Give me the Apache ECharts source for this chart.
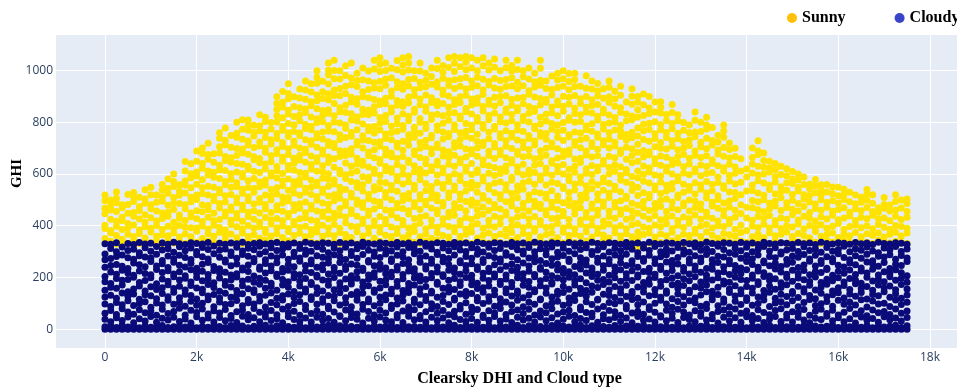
<!DOCTYPE html>
<html>
<head>
<meta charset="utf-8">
<script src="https://cdn.jsdelivr.net/npm/echarts@6/dist/echarts.min.js"></script>
<style>
html,body{margin:0;padding:0;background:#fff}
#chart{width:957px;height:388px}
</style>
</head>
<body>
<div id="chart"></div>
<script>
// x position of every column of points (Clearsky DHI index)
const xCols = [0,125,250,375,500,625,750,875,1000,1125,1250,1375,1500,1625,1750,1875,2000,2125,2250,2375,2500,2625,2750,2875,3000,3125,3250,3375,3500,3625,3750,3875,4000,4125,4250,4375,4500,4625,4750,4875,5000,5125,5250,5375,5500,5625,5750,5875,6000,6125,6250,6375,6500,6625,6750,6875,7000,7125,7250,7375,7500,7625,7750,7875,8000,8125,8250,8375,8500,8625,8750,8875,9000,9125,9250,9375,9500,9625,9750,9875,10000,10125,10250,10375,10500,10625,10750,10875,11000,11125,11250,11375,11500,11625,11750,11875,12000,12125,12250,12375,12500,12625,12750,12875,13000,13125,13250,13375,13500,13625,13750,13875,14000,14125,14250,14375,14500,14625,14750,14875,15000,15125,15250,15375,15500,15625,15750,15875,16000,16125,16250,16375,16500,16625,16750,16875,17000,17125,17250,17375,17500];

// GHI values of the sunny points, one list per column
const sunnyCols = [
[334,351,389,402,446,468,497,519],
[340,373,381,425,461,478,500],
[329,362,398,417,455,489,506,531],
[337,348,385,420,433,470,481],
[332,367,392,409,448,482,521],
[345,358,403,437,451,494,512,529],
[331,370,384,426,459,474,510],
[339,353,396,414,443,487,503,539],
[334,376,390,431,466,481,520,549],
[342,359,401,418,457,491,519],
[330,365,386,428,449,495,511,538,560],
[347,361,398,437,452,479,526,544,581],
[333,372,389,414,463,487,509,552,571,600],
[338,356,401,429,442,486,518,533,559],
[331,368,394,420,466,481,527,558,573,612,649],
[344,357,392,435,449,493,510,547,586,601,640],
[336,379,391,427,458,502,519,561,592,608,650,689],
[330,351,399,416,454,481,524,547,578,622,641,680,701],
[341,370,387,433,462,478,519,553,596,612,657,676,719],
[335,359,402,419,448,497,513,549,588,607,646,679],
[332,375,393,424,469,486,528,540,583,617,634,681,706,739,760],
[346,361,384,438,453,492,516,559,571,614,652,668,713,731,778],
[333,368,405,421,460,473,521,549,580,601,646,663,704,749],
[339,354,396,430,447,489,507,552,566,608,641,672,699,742,758,800],
[331,372,388,417,463,479,526,541,589,602,638,681,697,735,773,810],
[343,358,401,436,452,497,512,548,574,619,630,677,712,728,769,791,809],
[336,366,390,425,458,484,530,544,583,611,655,667,703,747,761,789],
[330,352,397,414,449,491,505,551,569,606,644,660,709,724,768,787,829],
[345,373,386,432,466,482,519,558,577,621,639,684,700,741,762,803,820],
[334,360,407,423,451,500,516,540,592,604,648,671,716,733,774,799],
[338,369,391,428,462,477,523,547,585,613,629,680,694,738,757,801,826,850,873,899],
[331,355,400,419,456,488,511,555,573,602,650,665,707,722,769,784,818,859,878,919],
[342,377,389,435,447,496,509,537,581,618,633,676,698,745,760,796,832,847,891,912,949],
[335,362,404,416,459,481,527,552,570,615,642,661,711,727,765,790,823,861,899],
[329,371,393,427,468,485,518,560,579,606,654,672,701,748,759,806,829,857,894,929],
[344,357,398,431,450,492,530,545,589,603,646,683,696,733,776,792,838,852,889,925,960],
[337,366,385,422,465,479,521,549,576,620,637,670,715,729,771,785,821,864,880,917,949],
[332,376,395,418,457,499,513,556,568,611,649,663,704,740,756,799,814,853,884,906,951,975,1000],
[341,359,402,437,453,488,529,541,584,609,632,678,693,736,763,802,827,846,892,918,959],
[334,368,391,426,461,483,515,553,580,601,645,666,710,725,767,788,835,849,887,911,948,983,1002,1030],
[338,361,405,429,448,497,520,562,577,626,659,703,718,764,801,826,873,904,925,969,1001,1040],
[331,374,390,441,467,506,531,549,601,615,668,690,734,752,798,841,857,903,931,968,1000],
[345,366,412,434,478,493,540,583,597,643,672,689,741,777,790,838,866,912,940,981,1019],
[336,355,398,447,462,511,526,571,604,630,677,698,746,761,809,833,879,897,946,972,1030],
[329,377,396,437,483,500,548,566,611,639,661,712,726,771,805,821,870,891,939,962,990],
[342,360,409,425,471,489,534,559,590,634,650,701,732,748,794,830,851,899,918,965,1010],
[335,371,391,440,456,504,521,575,588,627,671,685,730,768,782,829,847,895,927,960,999],
[333,352,401,418,465,496,537,551,603,618,663,694,723,759,784,836,860,888,933,953,1006,1040],
[340,375,393,436,477,492,543,569,595,642,656,708,725,770,797,819,869,883,930,959,997,1025,1050],
[331,363,408,424,461,510,529,566,612,629,674,696,738,755,803,827,872,893,944,968,1001,1030],
[344,358,395,443,459,501,539,556,607,621,667,681,733,761,786,840,856,901,921,973,1009],
[337,370,389,431,470,486,533,574,591,637,660,705,719,766,795,817,866,885,935,957,1004,1039],
[330,354,404,420,467,498,516,562,600,624,668,692,727,773,788,833,862,880,928,949,995,1022,1050],
[343,366,391,445,458,505,525,570,593,645,653,711,735,752,806,824,875,898,941,966,1003,1031,1055],
[336,378,399,428,474,489,541,557,609,632,676,689,742,767,781,839,851,904,926,970,1000],
[332,357,410,433,463,503,520,578,598,619,664,700,722,758,800,815,868,890,934,955,999,1030],
[341,369,388,439,481,495,536,563,604,640,657,707,731,776,793,843,859,906,938,963,990],
[334,352,400,422,468,507,531,552,613,628,679,697,740,750,811,828,877,895,947,977,1010],
[345,373,394,446,460,497,518,567,596,635,650,703,716,769,787,831,864,882,937,956,1008,1040],
[330,362,406,427,476,490,545,560,605,622,670,693,736,763,797,826,873,908,924,971,994,1020],
[338,356,397,435,452,509,527,571,590,638,662,686,744,757,808,834,858,902,943,961,1012,1050],
[333,377,392,441,466,485,538,554,601,630,673,704,721,772,790,837,869,887,931,965,997,1029,1055],
[342,359,403,419,471,502,523,575,593,644,658,709,734,760,813,825,876,899,940,969,1015,1050],
[335,367,387,432,457,494,534,561,611,626,666,697,745,766,796,841,854,905,929,974,1004,1033,1055],
[331,376,399,425,479,500,546,568,598,641,679,694,739,771,789,832,867,890,936,960,1010,1050],
[344,353,408,438,462,488,530,557,606,617,669,701,726,754,804,819,874,894,942,975,1000,1040],
[337,364,390,444,473,506,517,573,589,636,654,710,723,777,792,844,861,908,925,967,1019,1050],
[332,372,401,421,459,496,542,555,603,632,672,688,737,762,810,827,870,886,945,958,1003,1030],
[340,358,395,437,470,482,528,565,594,625,660,705,718,774,785,836,863,897,933,970,1013,1045],
[335,368,407,429,465,504,520,570,602,620,675,691,740,756,802,821,876,900,928,962,1000],
[329,361,386,442,453,493,537,559,610,631,663,708,729,768,798,839,852,903,939,966,1011,1040],
[343,374,398,423,476,499,525,576,588,643,655,699,743,758,806,830,866,889,941,973,999,1020],
[336,355,404,434,461,508,533,554,608,627,676,687,732,770,791,845,857,894,930,955,1005,1040],
[331,370,392,440,469,487,541,566,597,638,667,703,724,765,807,823,872,896,942,976,1000],
[346,363,402,426,457,501,519,572,599,616,670,695,738,749,801,835,861,909,922,968,1010],
[334,379,389,436,474,495,532,561,606,634,659,712,728,775,786,842,854,898,937,957,990],
[339,357,405,420,467,483,527,577,592,640,665,690,746,761,794,820,867,892,944,963,1009,1040],
[330,366,393,443,458,506,522,558,604,622,673,700,735,757,805,831,878,888,931,960],
[342,372,397,428,472,491,535,568,595,642,651,706,720,773,796,837,859,906,927,979],
[337,354,409,431,463,498,515,563,609,629,662,698,741,764,790,826,868,883,935,964,990],
[333,375,391,439,455,489,544,551,600,637,668,688,730,769,799,843,862,901,940,969,1000],
[344,362,400,424,478,503,529,574,591,619,677,693,744,752,808,818,871,897,926,958,989],
[335,368,388,445,464,486,538,562,607,630,658,711,725,763,800,834,855,904,939,966,990],
[330,359,406,422,470,495,518,567,589,645,661,702,733,759,803,829,873,891,940],
[341,377,394,433,451,507,531,555,603,621,674,689,739,771,787,840,858,900,932,980],
[336,356,403,427,468,484,543,571,598,633,666,707,721,766,795,836,865,887,929,960],
[332,370,390,441,460,500,523,559,612,627,671,696,742,755,809,824,869,902,921,950],
[345,364,398,418,475,492,537,570,586,639,652,713,729,774,792,837,851,893,930],
[338,353,407,436,456,509,526,564,601,625,669,701,736,760,798,828,877,899,936,960],
[331,373,392,429,473,490,540,553,610,636,663,709,723,770,801,819,862,890,920],
[343,360,401,444,461,497,532,576,594,628,680,692,745,767,789,838,857,905,940],
[334,369,388,425,467,505,514,568,605,618,657,704,731,753,806,832,879],
[339,357,404,432,458,487,536,560,591,644,672,698,740,762,810,825,870,901,930],
[318,352,376,409,448,479,517,549,586,612,650,684,715,747,778,821,849,878,900],
[322,366,395,437,470,494,528,572,599,631,667,691,734,768,793,827,868,910],
[333,372,390,426,459,508,521,565,608,623,675,686,727,772,797,834,856,900],
[340,356,403,440,466,486,539,554,596,640,659,706,738,756,802,840,879],
[335,368,396,423,474,498,525,569,592,634,670,700,722,771,791,836,858,880],
[330,361,408,431,455,503,534,557,611,626,665,697,741,761,807,830],
[342,375,389,438,469,492,542,563,600,637,654,708,729,775,796,838,869],
[337,354,402,420,462,509,519,574,590,643,668,694,737,758,806,829],
[331,367,393,434,477,488,530,561,604,628,676,701,726,769,799],
[344,362,410,427,457,500,537,552,597,639,661,710,733,760,790],
[336,371,387,442,471,496,523,566,609,620,673,689,744,763,808,840],
[332,358,399,425,463,484,541,558,593,635,664,706,723,765,800],
[340,376,405,436,452,507,527,571,602,629,671,698,739,774,790,820],
[335,363,391,429,476,491,535,560,606,641,655,712,730,780],
[330,352,400,418,468,502,516,567,589,632,678,693,724,750],
[343,370,397,439,458,488,544,555,611,624,669,703,742,767,790],
[338,365,408,424,473,497,531,573,594,638,662,695,720],
[332,359,386,433,460,505,529,562,603,627,668,700],
[341,374,402,447,481,520,568,611,659],
[336,381,430,472,534,589,620],
[331,357,399,421,470,498,536,558,604,639,664,701],
[344,368,392,436,462,493,527,574,596,630,676,689,729],
[337,355,406,428,454,501,518,565,600,626,652,681],
[330,373,391,440,466,487,540,557,608,623,650],
[342,361,404,419,476,495,523,569,590,617,641],
[335,367,389,431,459,508,532,551,598,630],
[331,376,400,425,471,489,537,566,593,621],
[345,358,395,443,464,499,521,563,581,610],
[338,370,407,422,457,486,534,548,577,600],
[333,362,388,437,474,503,520,560,589],
[340,354,401,429,451,492,517,543,561],
[336,378,393,418,467,484,528,555,579],
[331,359,404,435,460,501,519,538,559],
[343,366,390,426,472,490,531,560],
[337,372,398,441,456,497,524,550],
[332,355,409,423,463,488,516,549],
[344,368,386,430,470,502,521,541],
[336,361,397,438,452,493,530],
[330,374,403,420,466,485,519],
[341,357,392,433,458,491,510],
[335,369,400,427,471,499,522,540],
[331,363,388,441,455,487,520],
[344,372,405,426,452,470],
[338,356,394,430,468,482,509],
[333,367,386,419,457,480],
[340,375,401,437,461,494,520],
[335,360,397,424,469,500],
[331,372,390,433,455,486,503]
];

// GHI values of the cloudy points, one list per column
const cloudyCols = [
[0,9,38,61,97,124,150,183,204,239,268,291,330],
[0,12,29,72,88,131,162,177,221,246,273,312,328],
[0,6,44,57,103,119,158,196,212,250,281,299,334],
[0,15,33,79,94,140,171,189,228,243,287,318],
[0,8,47,66,110,127,145,192,217,235,276,304,331],
[0,11,25,58,91,136,155,201,208,256,270,309,327],
[0,5,40,75,99,116,167,180,225,249,284,296,335],
[0,13,31,63,106,133,148,188,215,241,279,315,329],
[0,7,49,70,85,129,164,199,210,262,275,301,332],
[0,10,27,54,101,118,153,176,231,244,290,320],
[0,14,42,77,93,138,160,194,219,253,266,306,333],
[0,6,35,60,112,125,172,185,226,238,283,311,328],
[0,9,46,68,96,143,157,203,213,259,272,297,336],
[0,12,30,81,104,121,166,190,222,247,286,319,330],
[0,8,39,55,89,135,151,197,207,240,277,303,327],
[0,15,24,73,108,130,169,182,230,255,269,314,334],
[0,5,48,64,92,117,159,200,216,236,288,300,331],
[0,11,34,78,100,141,154,187,224,251,280,316,329],
[0,7,43,59,114,128,173,195,211,258,271,308,335],
[0,13,28,71,87,134,161,179,227,242,292,322],
[0,10,45,62,105,120,147,198,218,234,278,305,332],
[0,6,32,76,95,139,170,184,220,260,267,310,328],
[0,14,41,53,98,123,163,191,209,245,285,298,333],
[0,9,26,67,111,132,149,202,214,252,274,317,330],
[0,12,50,74,90,137,168,186,229,237,289,302,336],
[0,5,36,57,102,115,156,193,223,248,282,313,327],
[0,11,44,80,97,142,152,181,206,261,273,307,331],
[0,8,29,65,109,126,174,197,232,240,291,321,334],
[0,15,47,61,86,131,158,189,217,254,268,299,329],
[0,6,33,72,103,140,165,178,226,244,283,315,332],
[0,13,40,56,94,119,150,204,212,257,276,304,335],
[0,9,25,78,113,129,171,192,221,235,287,310,328],
[0,10,48,63,88,136,162,183,228,250,270,318,330],
[0,7,37,69,99,122,146,199,215,241,281,297,333],
[0,14,30,54,107,133,167,185,210,263,275,312,327],
[0,5,43,76,91,144,155,196,225,246,290,306,336],
[0,12,28,60,115,125,173,180,219,253,267,301,331],
[0,8,46,71,96,138,160,202,208,239,284,319,329],
[0,11,34,58,104,118,148,190,230,249,278,309,334],
[0,15,41,79,89,130,170,187,213,256,272,296,332],
[0,6,27,66,110,127,152,200,224,238,288,314,328],
[0,13,49,52,93,141,164,179,216,258,280,303,335],
[0,9,32,74,101,121,157,194,231,243,269,317,330],
[0,10,45,63,87,134,175,188,207,252,285,300,333],
[0,7,38,59,112,128,145,197,222,247,274,311,327],
[0,14,24,77,95,139,163,182,227,236,289,320,336],
[0,5,42,68,106,117,168,193,209,260,266,305,331],
[0,12,31,55,90,143,151,201,218,245,282,298,329],
[0,8,47,73,100,124,159,185,232,251,277,313,334],
[0,11,35,62,114,132,172,190,214,237,291,307,332],
[0,15,29,80,92,137,154,203,220,262,271,302,328],
[0,6,44,57,97,120,166,184,229,242,286,318,335],
[0,13,26,70,109,131,149,195,211,254,279,299,330],
[0,9,50,64,86,142,161,177,225,248,268,316,333],
[0,10,36,75,103,116,171,198,217,234,292,308,327],
[0,7,40,53,94,135,156,186,206,259,276,301,336],
[0,14,28,67,111,126,165,192,233,244,283,321,331],
[0,5,46,79,98,140,147,199,215,255,270,310,329],
[0,12,33,61,88,123,174,181,221,240,289,297,334],
[0,8,43,72,107,130,158,204,210,261,278,314,332],
[0,11,25,56,95,144,163,189,228,250,273,303,328],
[0,15,48,69,113,119,153,196,219,237,287,319,335],
[0,6,37,78,91,136,169,183,212,257,265,306,330],
[0,13,30,58,102,129,146,200,226,246,281,300,333],
[0,9,41,65,85,138,172,191,208,253,274,315,327],
[0,10,27,76,110,122,157,178,231,241,290,309,336],
[0,7,45,54,99,143,160,197,216,258,269,298,331],
[0,14,34,71,108,125,167,188,223,236,284,317,329],
[0,5,49,62,89,133,150,202,213,249,277,304,334],
[0,12,31,80,97,118,173,185,230,260,271,312,332],
[0,8,39,57,105,141,155,194,209,243,286,296,328],
[0,11,26,68,93,128,164,180,227,252,280,320,335],
[0,15,46,74,112,137,148,199,218,239,268,307,330],
[0,6,35,60,87,121,170,193,214,256,291,302,333],
[0,13,42,77,104,132,162,184,224,244,275,316,327],
[0,9,28,55,96,145,152,203,211,261,282,299,336],
[0,10,47,70,114,117,168,187,232,238,266,311,331],
[0,7,32,63,90,139,159,196,220,254,288,305,329],
[0,14,44,79,101,124,175,181,207,247,272,318,334],
[0,5,24,59,108,134,147,198,229,251,279,297,332],
[0,12,38,66,92,142,166,190,215,235,285,313,328],
[0,8,50,73,99,120,154,201,222,262,270,301,335],
[0,11,29,53,111,131,171,186,210,242,292,321,330],
[0,15,41,75,86,138,158,195,233,255,276,308,333],
[0,6,33,64,106,127,149,179,217,248,267,315,327],
[0,13,48,61,95,143,167,204,225,237,289,300,336],
[0,9,27,78,113,116,161,189,212,259,274,306,331],
[0,10,40,56,88,135,173,192,228,245,283,319,329],
[0,7,36,72,103,130,151,182,208,253,269,298,334],
[0,14,45,67,98,122,165,199,221,240,287,312,332],
[0,5,30,54,109,140,156,185,230,257,278,303,328],
[0,12,43,79,91,126,170,197,214,246,290,317,335],
[0,8,25,62,115,137,146,188,226,250,265,309,330],
[0,11,49,69,94,119,163,202,209,239,281,296,333],
[0,15,34,58,105,144,160,180,223,263,273,314,327],
[0,6,39,76,87,129,174,193,219,236,286,304,336],
[0,13,28,65,100,133,153,200,212,254,271,320,331],
[0,9,47,52,112,123,166,184,231,243,280,299,329],
[0,10,32,73,97,139,148,191,216,260,288,310,334],
[0,7,42,60,85,118,172,198,227,247,266,302,332],
[0,14,26,77,107,136,157,178,207,252,277,316,328],
[0,5,45,66,93,125,169,195,224,238,291,307,335],
[0,12,37,55,110,141,150,187,213,256,270,297,330],
[0,8,29,71,102,120,164,203,229,244,284,318,333],
[0,11,50,63,89,132,159,182,220,261,275,305,327],
[0,15,35,80,96,145,171,194,208,235,289,311,336],
[0,6,40,57,114,127,147,190,232,249,268,300,331],
[0,13,24,68,90,134,162,199,217,258,282,321,329],
[0,9,46,74,104,117,175,186,222,241,279,308,334],
[0,10,31,59,86,142,155,181,211,253,267,296,332],
[0,7,44,78,108,128,168,201,226,246,290,313,328],
[0,14,27,61,95,137,152,192,215,237,274,303,335],
[0,5,48,70,111,121,165,188,230,262,285,317,330],
[0,12,33,53,92,140,158,197,209,250,272,299,333],
[0,8,41,75,99,124,173,183,225,239,287,309,327],
[0,11,26,64,113,131,149,204,218,257,264,320,336],
[0,15,39,56,88,143,167,189,206,245,281,302,331],
[0,6,49,72,101,119,154,195,233,255,276,315,329],
[0,13,30,79,106,135,161,179,221,242,291,298,334],
[0,9,43,58,94,126,172,200,212,251,269,306,332],
[0,10,28,67,110,138,146,185,228,259,283,312,328],
[0,7,46,62,87,122,166,198,214,238,278,300,335],
[0,14,35,76,103,144,156,191,227,248,289,319,330],
[0,5,25,54,115,130,170,184,210,263,271,304,333],
[0,12,42,69,91,118,151,202,223,244,286,310,327],
[0,8,37,77,98,139,163,180,219,254,266,297,336],
[0,11,50,60,107,125,174,193,231,236,280,316,331],
[0,15,32,73,89,133,148,187,208,261,273,301,329],
[0,6,44,55,112,141,160,199,224,247,292,308,334],
[0,13,29,65,96,120,169,182,216,240,277,321,332],
[0,9,40,80,105,136,153,196,229,256,268,299,328],
[0,10,24,59,93,127,176,190,211,249,284,311,335],
[0,7,47,71,114,142,157,178,225,237,274,305,330],
[0,14,34,52,86,117,165,201,217,260,290,318,333],
[0,5,41,74,109,134,150,186,232,252,265,302,327],
[0,12,27,63,97,129,171,194,209,243,282,296,336],
[0,8,48,68,100,145,159,183,222,258,279,314,331],
[0,11,36,57,88,123,167,203,215,235,288,307,329],
[0,15,43,78,113,137,152,189,230,251,270,320,334],
[0,6,31,61,95,119,173,197,218,246,285,300,332],
[0,13,45,70,104,132,155,181,207,262,275,310,328]
];

const xTicks = [0,2000,4000,6000,8000,10000,12000,14000,16000,18000];
const xTickLabels = ['0','2k','4k','6k','8k','10k','12k','14k','16k','18k'];
const yTicks = [0,200,400,600,800,1000];

function toPoints(cols) {
    const pts = [];
    cols.forEach((ys, i) => {
        ys.forEach(y => pts.push([xCols[i], y]));
    });
    return pts;
}

const tickFont = {color: '#2a3f5f', fontFamily: 'Open Sans', fontSize: 12};
const titleFont = {color: '#000', fontFamily: 'Liberation Serif', fontWeight: 'bold'};

const chart = echarts.init(document.getElementById('chart'), null, {renderer: 'canvas'});
chart.setOption({
    animation: false,
    backgroundColor: '#fff',
    legend: {
        top: 5,
        left: 782,
        width: 400,
        icon: 'circle',
        itemWidth: 10,
        itemHeight: 10,
        itemGap: 49,
        textStyle: {color: '#000', fontFamily: 'Liberation Serif', fontWeight: 'bold', fontSize: 16},
        data: [
            {name: 'Sunny', itemStyle: {color: '#ffc107'}},
            {name: 'Cloudy', itemStyle: {color: '#3a44c8'}}
        ]
    },
    grid: {
        left: 56, right: 0, top: 35, bottom: 40,
        containLabel: false,
        outerBoundsMode: 'none',
        show: true, backgroundColor: '#e5ecf6', borderWidth: 0
    },
    xAxis: {
        type: 'value',
        min: -1069,
        max: 18590,
        name: 'Clearsky DHI and Cloud type',
        nameLocation: 'middle',
        nameGap: 23,
        nameMoveOverlap: false,
        nameTextStyle: Object.assign({padding: [0, 0, 0, 26], fontSize: 16}, titleFont),
        axisLine: {show: false},
        axisTick: {show: false, customValues: xTicks},
        axisLabel: Object.assign({
            customValues: xTicks,
            margin: 4,
            formatter: v => xTickLabels[xTicks.indexOf(v)]
        }, tickFont),
        splitLine: {show: true, lineStyle: {color: '#fff', width: 1}}
    },
    yAxis: {
        type: 'value',
        min: -73,
        max: 1138,
        name: 'GHI',
        nameLocation: 'middle',
        nameRotate: 90,
        nameGap: 31,
        nameMoveOverlap: false,
        nameTextStyle: Object.assign({padding: [0, 0, 0, 36], fontSize: 15}, titleFont),
        axisLine: {show: false},
        axisTick: {show: false, customValues: yTicks},
        axisLabel: Object.assign({customValues: yTicks, margin: 3, formatter: v => String(v)}, tickFont),
        splitLine: {show: true, lineStyle: {color: '#fff', width: 1}}
    },
    series: [
        {
            name: 'Sunny',
            type: 'scatter',
            symbol: 'circle',
            symbolSize: 7,
            large: false,
            progressive: 0,
            itemStyle: {color: '#ffe300', opacity: 1},
            data: toPoints(sunnyCols)
        },
        {
            name: 'Cloudy',
            type: 'scatter',
            symbol: 'circle',
            symbolSize: 7,
            large: false,
            progressive: 0,
            itemStyle: {color: '#0a0a78', opacity: 1},
            data: toPoints(cloudyCols)
        }
    ]
});
</script>
</body>
</html>
